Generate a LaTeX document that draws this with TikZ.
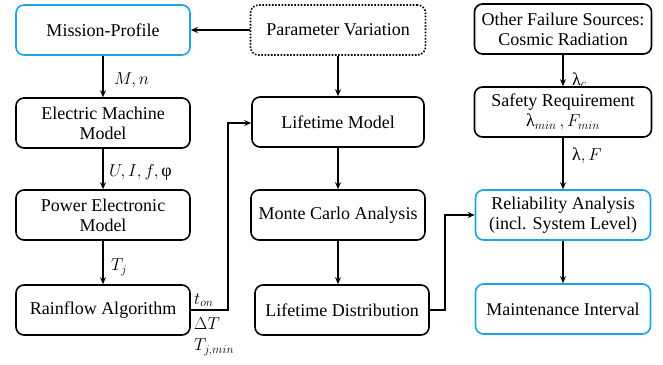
\documentclass[tikz,border=0pt]{standalone}
\usepackage{amsmath}
\usepackage{fontspec}
\setmainfont{Liberation Serif}
\newfontfamily\boxfont{Liberation Serif}
\usetikzlibrary{arrows.meta}
\definecolor{boxcyan}{RGB}{27,163,226}
\tikzset{
  blk/.style={draw=black, line width=1.6pt, rounded corners=8pt, minimum width=174pt,
    minimum height=50pt, align=center, inner sep=2pt, font=\boxfont\fontsize{18}{20}\selectfont},
  cyanblk/.style={blk, draw=boxcyan},
  dotblk/.style={blk, dash pattern=on 1.6pt off 1.6pt},
  flow/.style={line width=1.6pt, -{Stealth[length=7pt,width=6pt]}},
  lbl/.style={anchor=west, inner sep=0pt, font=\boxfont\fontsize{18}{20}\selectfont}
}
\begin{document}
\begin{tikzpicture}[x=1pt, y=-1pt]
\useasboundingbox (0,0) rectangle (663,364);
% left column
\node[cyanblk] (mission) at (103,30) {Mission-Profile};
\node[blk] (emm) at (103,123) {Electric Machine\\Model};
\node[blk] (pem) at (103,215) {Power Electronic\\Model};
\node[blk] (rain) at (103,310) {Rainflow Algorithm};
% middle column
\node[dotblk, minimum width=175pt] (param) at (338,30) {Parameter Variation};
\node[blk, minimum width=172pt] (life) at (338,122) {Lifetime Model};
\node[blk] (mc) at (338,215) {Monte Carlo Analysis};
\node[blk] (ldist) at (342,310) {Lifetime Distribution};
% right column
\node[blk, minimum width=177pt] (other) at (563,29) {Other Failure Sources:\\Cosmic Radiation};
\node[blk, minimum width=177pt] (safety) at (563,112) {Safety Requirement\\$\text{λ}_{min}\,,F_{min}$};
\node[cyanblk, minimum width=175pt] (rel) at (563,215) {Reliability Analysis\\(incl. System Level)};
\node[cyanblk, minimum width=175pt] (maint) at (563,309) {Maintenance Interval};

% connectors
\draw[flow] (param.west) -- (mission.east);
\draw[flow] (mission) -- (emm);
\draw[flow] (emm) -- (pem);
\draw[flow] (pem) -- (rain);
\coordinate (rc) at (228,310);
\coordinate (lc) at (228,123);
\draw[flow] (rain.east) -- (rc) -- (lc) -- (life.west |- lc);
\draw[flow] (param) -- (life);
\draw[flow] (life) -- (mc);
\draw[flow] (mc.south) -- (mc.south |- ldist.north);
\coordinate (dc) at (445,310);
\coordinate (uc) at (445,215);
\draw[flow] (ldist.east) -- (dc) -- (uc) -- (rel.west);
\draw[flow] (other.south) -- (other.south |- safety.north);
\draw[flow] (safety.south) -- (safety.south |- rel.north);
\draw[flow] (rel) -- (maint);

% connector labels
\node[lbl] (lmn) at (114,80) {$M,n$};
\node[lbl] (luif) at (109,172) {$U,I,f,\text{φ}$};
\node[lbl] (ltj) at (111,267) {$T_j$};
\node[lbl] (lton) at (194,300) {$t_{on}$};
\node[lbl] (ldt) at (194,324) {$\Delta T$};
\node[lbl] (ltjm) at (194,347) {$T_{j,min}$};
\node[lbl] (llc) at (572,80) {$\text{λ}_c$};
\node[lbl] (llf) at (572,156) {$\text{λ},F$};
\end{tikzpicture}
\end{document}
